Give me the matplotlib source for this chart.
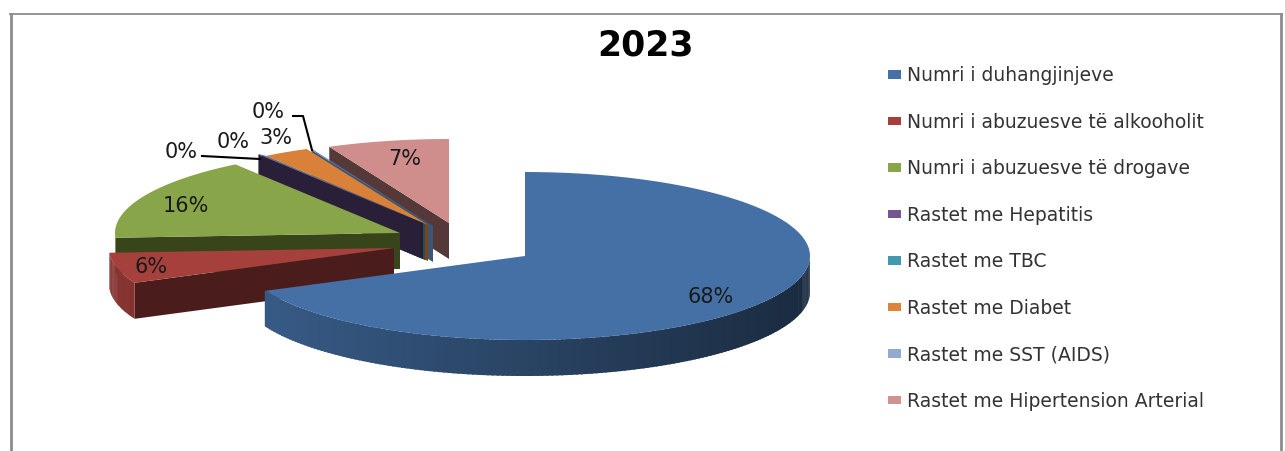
import matplotlib
matplotlib.use('Agg')
import matplotlib.pyplot as plt
from matplotlib.patches import Patch
import matplotlib.colors as mcolors
import numpy as np

# data
categories = ["Numri i duhangjinjeve", "Numri i abuzuesve të alkooholit", "Numri i abuzuesve të drogave",
              "Rastet me Hepatitis", "Rastet me TBC", "Rastet me Diabet", "Rastet me SST (AIDS)",
              "Rastet me Hipertension Arterial"]
values = [68.2, 5.9, 16.1, 0.1, 0.1, 2.6, 0.1, 6.9]

# styles
colors = ["#4571a7", "#a5403d", "#88a54a", "#71588f", "#4198af", "#db843d", "#93a9cf", "#d19392"]
top_colors = ["#4470a6", "#a5403d", "#88a54a", "#7b5ea0", "#4198af", "#d98138", "#5b7fb0", "#cf8d8c"]
cut_colors = ["#1a2b44", "#4a1c1c", "#384419", "#2a1f38", "#20505c", "#7a4413", "#3d5675", "#553838"]

# where each exploded slice has its point, in pixels
apex_x = [525, 394, 400, 423, 425, 428, 433, 449]
apex_y = [256, 248, 233, 223, 224, 225, 226, 223]
label_x = [711, 151, 186, 181, 268, 276, 233, 405]
label_y = [297, 267, 206, 152, 112, 138, 142, 159]
rx, ry, depth = 285, 84, 36

fig = plt.figure(figsize=(12.85, 4.51), dpi=100, facecolor='white')
ax = fig.add_axes([0, 0, 1, 1])
ax.set_xlim(0, 1285)
ax.set_ylim(451, 0)
ax.axis('off')


def arc(cx, cy, t0, t1, n=120):
    t = np.radians(np.linspace(t0, t1, n))
    return cx + rx * np.sin(t), cy - ry * np.cos(t)


edges = np.cumsum([0] + values) / sum(values) * 360

# back to front: last slice first, blue stays on top
for i in reversed(range(len(values))):
    a, b = edges[i], edges[i + 1]
    cx, cy = apex_x[i], apex_y[i]

    # cut face
    if np.sin(np.radians(a)) < 0:
        x0, y0 = arc(cx, cy, a, a, 1)
        ax.fill([cx, x0[0], x0[0], cx], [cy, y0[0], y0[0] + depth, cy + depth],
                color=cut_colors[i], lw=0, zorder=i * -3 + 30)

    # outer rim, darker to the right
    r0, r1 = max(a, 90), min(b, 270)
    if r1 > r0:
        steps = np.linspace(r0, r1, max(int(r1 - r0), 1) + 1)
        base = np.array(mcolors.to_rgb(colors[i]))
        for s0, s1 in zip(steps[:-1], steps[1:]):
            f = 0.38 + (1 - np.sin(np.radians(s0))) / 1.906 * 0.42
            xs, ys = arc(cx, cy, s0, s1 + 0.4, 6)
            ax.fill(np.r_[xs, xs[::-1]], np.r_[ys, ys[::-1] + depth], color=base * f, lw=0,
                    zorder=i * -3 + 30)

    # top surface
    xs, ys = arc(cx, cy, a, b)
    ax.fill(np.r_[cx, xs], np.r_[cy, ys], color=top_colors[i], lw=0, zorder=i * -3 + 31)

# labels
for i, v in enumerate(values):
    ax.text(label_x[i], label_y[i], f"{v:.0f}%", ha='center', va='center', fontsize=15,
            color='#1a1a1a', zorder=50)

# leader lines for the small slices
ax.plot([202, 260], [156, 159], color='black', lw=1.5, zorder=49)
ax.plot([293, 303, 312], [116, 116, 150], color='black', lw=1.5, zorder=49)

ax.text(646, 45, "2023", ha='center', va='center', fontsize=25, fontweight='bold', color='black')

handles = [Patch(facecolor=c, edgecolor='none', label=n) for c, n in zip(colors, categories)]
leg = ax.legend(handles=handles, loc='upper left', bbox_to_anchor=(888 / 1285, 1 - 66 / 451), frameon=False,
                fontsize=13.5, labelcolor='#333333', handlelength=0.69, handleheight=0.32,
                handletextpad=0.32, labelspacing=1.47, borderpad=0, borderaxespad=0)

# chart frame, open at the bottom
ax.plot([10.5, 10.5], [451, 14], color='#8c8c8c', lw=2, zorder=60)
ax.plot([1281, 1281], [451, 14], color='#8c8c8c', lw=2, zorder=60)
ax.plot([9.5, 1282], [14, 14], color='#8c8c8c', lw=1.3, zorder=60)

plt.savefig('out.png', dpi=100, facecolor='white')
plt.close()
